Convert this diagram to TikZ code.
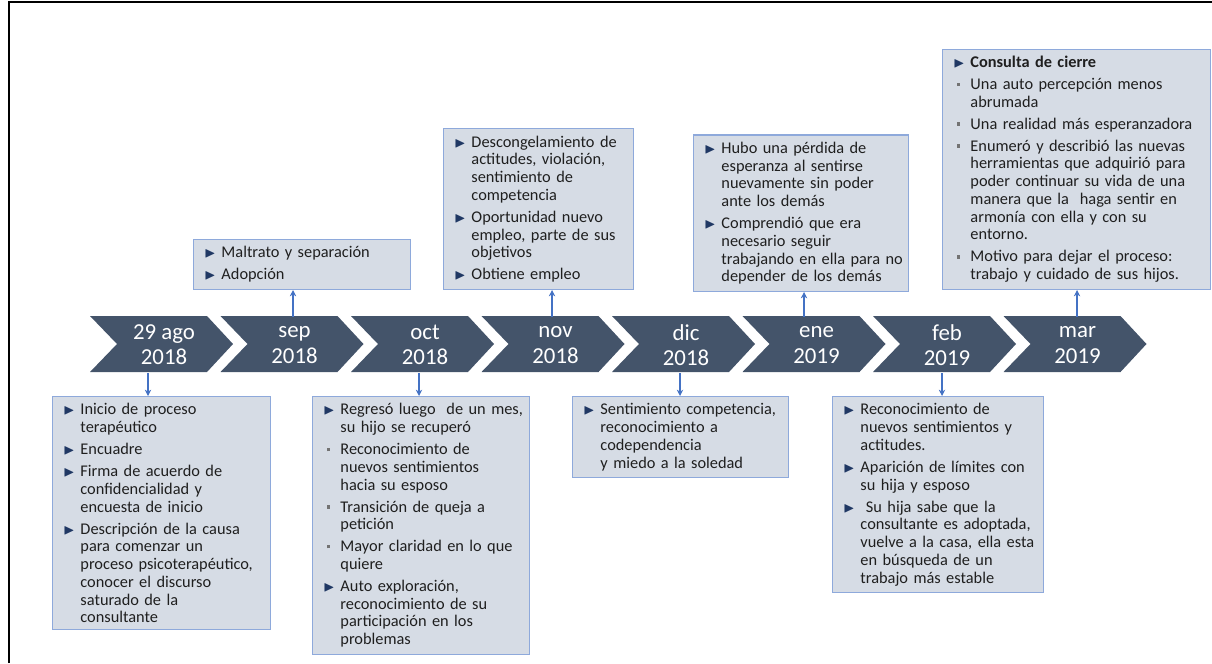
\documentclass[tikz,border=0pt]{standalone}
\usepackage{fontspec}
\setmainfont{Carlito}
\usepackage{amssymb}
\usetikzlibrary{arrows.meta,positioning}

\definecolor{chevfill}{HTML}{44546A}
\definecolor{boxfill}{HTML}{D6DCE5}
\definecolor{boxline}{HTML}{8EA9DB}
\definecolor{arrblue}{HTML}{4472C4}
\definecolor{bulnavy}{HTML}{203864}

\begin{document}
\begin{tikzpicture}[
  x=0.02cm, y=-0.02cm,
  chev/.style={fill=chevfill},
  mon/.style={minimum height=1.12cm,inner sep=0pt,align=center,text=white,
              font=\fontsize{13}{14.4}\selectfont},
  evbox/.style={draw=boxline,fill=boxfill,line width=0.6pt,inner xsep=5pt,inner ysep=4pt,
                align=left,text=black!88,font=\fontsize{9.3}{10.1}\selectfont},
  arr/.style={-{Stealth[length=3.6pt,width=3.6pt]},line width=0.75pt,draw=arrblue}
]
\useasboundingbox (0,0) rectangle (1212,663);

% ---- frame ----
\draw[line width=1pt] (9,663) -- (9,2) -- (1212,2);

% ---- bullets ----
\newcommand{\tb}[1]{\makebox[10.9pt][l]{\hspace{1.2pt}\textcolor{bulnavy}{\scalebox{0.9}{$\blacktriangleright$}}}\mbox{#1}}
\newcommand{\sqb}[1]{\makebox[10.9pt][l]{\hspace{3pt}\textcolor{black!55}{\rule[1.9pt]{2.1pt}{2.1pt}}}\mbox{#1}}
\newcommand{\cn}[1]{\hspace*{10.9pt}\mbox{#1}}

% ---- timeline ----
\foreach \i/\mo/\yr in {1/29 ago/2018,2/sep/2018,3/oct/2018,4/nov/2018,
                        5/dic/2018,6/ene/2019,7/feb/2019,8/mar/2019} {
  \pgfmathsetmacro{\L}{90+130.5*(\i-1)}
  \fill[chev] (\L,316) -- ++(117,0) -- ++(26,28) -- ++(-26,28) -- ++(-117,0) -- ++(27,-28) -- cycle;
  \node[mon] (c\i) at (\L+74,345) {\mo\\\yr};
}

% ---- events below ----
\node[evbox,anchor=north west,text width=4.01cm] (b1) at (52,396)
  {\tb{Inicio de proceso}\\ \cn{terapéutico}\\[2.4pt]
   \tb{Encuadre}\\[2.4pt]
   \tb{Firma de acuerdo de}\\ \cn{confidencialidad y}\\ \cn{encuesta de inicio}\\[2.4pt]
   \tb{Descripción de la causa}\\ \cn{para comenzar un}\\ \cn{proceso psicoterapéutico,}\\
   \cn{conocer el discurso}\\ \cn{saturado de la}\\ \cn{consultante}};

\node[evbox,anchor=north west,text width=3.99cm] (b3) at (312,396)
  {\tb{Regresó luego \ de un mes,}\\ \cn{su hijo se recuperó}\\[2.4pt]
   \sqb{Reconocimiento de}\\ \cn{nuevos sentimientos}\\ \cn{hacia su esposo}\\[2.4pt]
   \sqb{Transición de queja a}\\ \cn{petición}\\[2.4pt]
   \sqb{Mayor claridad en lo que}\\ \cn{quiere}\\[2.4pt]
   \tb{Auto exploración,}\\ \cn{reconocimiento de su}\\ \cn{participación en los}\\ \cn{problemas}};

\node[evbox,anchor=north west,text width=3.97cm] (b5) at (572,396)
  {\tb{Sentimiento competencia,}\\ \cn{reconocimiento a}\\ \cn{codependencia}\\ \cn{y miedo a la soledad}};

\node[evbox,anchor=north west,text width=3.87cm] (b7) at (832,396)
  {\tb{Reconocimiento de}\\ \cn{nuevos sentimientos y}\\ \cn{actitudes.}\\[2.4pt]
   \tb{Aparición de límites con}\\ \cn{su hija y esposo}\\[2.4pt]
   \tb{\ Su hija sabe que la}\\ \cn{consultante es adoptada,}\\ \cn{vuelve a la casa, ella esta}\\
   \cn{en búsqueda de un}\\ \cn{trabajo más estable}};

% ---- events above ----
\node[evbox,anchor=south west,text width=3.99cm] (b2) at (193,290)
  {\tb{Maltrato y separación}\\[2.4pt]
   \tb{Adopción}};

\node[evbox,anchor=south west,text width=3.45cm] (b4) at (443,290)
  {\tb{Descongelamiento de}\\ \cn{actitudes, violación,}\\ \cn{sentimiento de}\\ \cn{competencia}\\[2.4pt]
   \tb{Oportunidad nuevo}\\ \cn{empleo, parte de sus}\\ \cn{objetivos}\\[2.4pt]
   \tb{Obtiene empleo}};

\node[evbox,anchor=south west,text width=3.95cm] (b6) at (693,292)
  {\tb{Hubo una pérdida de}\\ \cn{esperanza al sentirse}\\ \cn{nuevamente sin poder}\\ \cn{ante los demás}\\[2.4pt]
   \tb{Comprendió que era}\\ \cn{necesario seguir}\\ \cn{trabajando en ella para no}\\ \cn{depender de los demás}};

\node[evbox,anchor=south west,text width=5.01cm] (b8) at (942,290)
  {\tb{\textbf{Consulta de cierre}}\\[2.4pt]
   \sqb{Una auto percepción menos}\\ \cn{abrumada}\\[2.4pt]
   \sqb{Una realidad más esperanzadora}\\[2.4pt]
   \sqb{Enumeró y describió las nuevas}\\ \cn{herramientas que adquirió para}\\ \cn{poder continuar su vida de una}\\
   \cn{manera que la \ haga sentir en}\\ \cn{armonía con ella y con su}\\ \cn{entorno.}\\[2.4pt]
   \sqb{Motivo para dejar el proceso:}\\ \cn{trabajo y cuidado de sus hijos.}};

% ---- connectors ----
\foreach \i/\ax in {1/148,3/419,5/680,7/942}
  \draw[arr] (c\i.south -| \ax,0) -- (b\i.north -| \ax,0);
\foreach \i/\ax in {2/293,4/552,6/804,8/1077}
  \draw[arr] (c\i.north -| \ax,0) -- (b\i.south -| \ax,0);

\end{tikzpicture}
\end{document}
